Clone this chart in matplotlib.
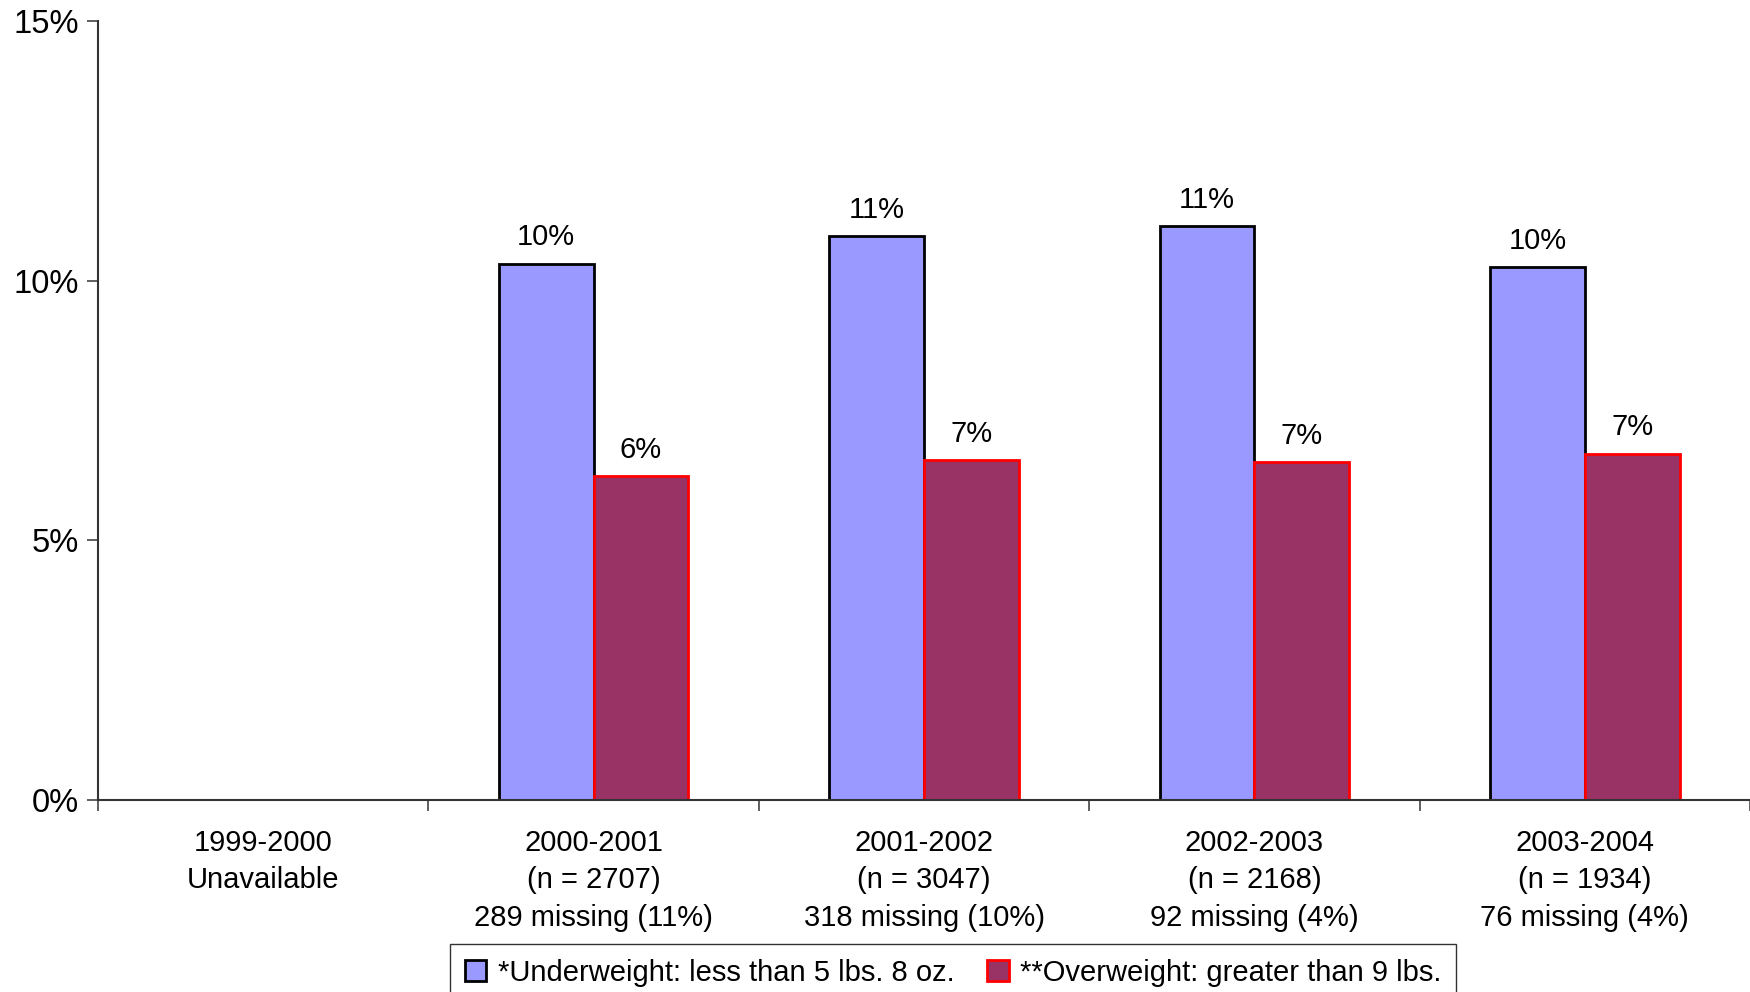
import numpy as np
import matplotlib.pyplot as plt
from matplotlib.patches import Patch

plt.rcParams['font.family'] = ['Liberation Sans', 'DejaVu Sans']

# Data (percent of births)
categories = [
    "1999-2000\nUnavailable",
    "2000-2001\n(n = 2707)\n289 missing (11%)",
    "2001-2002\n(n = 3047)\n318 missing (10%)",
    "2002-2003\n(n = 2168)\n92 missing (4%)",
    "2003-2004\n(n = 1934)\n76 missing (4%)",
]
underweight = [np.nan, 10.33, 10.86, 11.05, 10.26]
overweight = [np.nan, 6.23, 6.54, 6.50, 6.67]
under_labels = ["", "10%", "11%", "11%", "10%"]
over_labels = ["", "6%", "7%", "7%", "7%"]

blue = "#9999FF"
plum = "#993366"

fig = plt.figure(figsize=(17.5, 9.92), dpi=100)
ax = fig.add_axes([98 / 1750, 1 - 800 / 992, 1 - 98 / 1750, (800 - 21) / 992])

x = np.arange(len(categories))
w = 0.287

b1 = ax.bar(x - w / 2, underweight, w, color=blue, edgecolor="black", linewidth=2)
b2 = ax.bar(x + w / 2, overweight, w, color=plum, edgecolor="red", linewidth=2)

for bars, labs in ((b1, under_labels), (b2, over_labels)):
    for rect, lab in zip(bars, labs):
        if lab:
            ax.annotate(lab, (rect.get_x() + rect.get_width() / 2, rect.get_height()),
                        xytext=(0, 9), textcoords="offset points",
                        ha="center", va="bottom", fontsize=21)

ax.set_xlim(-0.5, len(categories) - 0.5)
ax.set_ylim(0, 15)
ax.set_yticks([0, 5, 10, 15])
ax.set_yticklabels(["0%", "5%", "10%", "15%"])
ax.tick_params(axis="y", labelsize=23.5, length=8, width=1.2, color="#444444", pad=6)

# category labels centred, ticks at category boundaries
ax.set_xticks(x)
ax.set_xticklabels(categories, fontsize=21, linespacing=1.42)
ax.tick_params(axis="x", which="major", length=0, pad=21)
ax.set_xticks(np.arange(-0.5, len(categories)), minor=True)
ax.tick_params(axis="x", which="minor", length=8, width=1.2, color="#444444", direction="out")

for s in ("top", "right"):
    ax.spines[s].set_visible(False)
for s in ("left", "bottom"):
    ax.spines[s].set_color("#333333")
    ax.spines[s].set_linewidth(1.5)

handles = [
    Patch(facecolor=blue, edgecolor="black", linewidth=2, label="*Underweight: less than 5 lbs. 8 oz."),
    Patch(facecolor=plum, edgecolor="red", linewidth=2, label="**Overweight: greater than 9 lbs."),
]
leg = fig.legend(handles=handles, loc="upper left", bbox_to_anchor=(450 / 1750, 1 - 944 / 992),
                 ncol=2, fontsize=21, frameon=True, fancybox=False, edgecolor="black",
                 handlelength=0.75, handleheight=0.75, handletextpad=0.4, columnspacing=1.1,
                 borderpad=0.5, borderaxespad=0)
leg.get_frame().set_linewidth(1)

fig.savefig("out.png", dpi=100)
